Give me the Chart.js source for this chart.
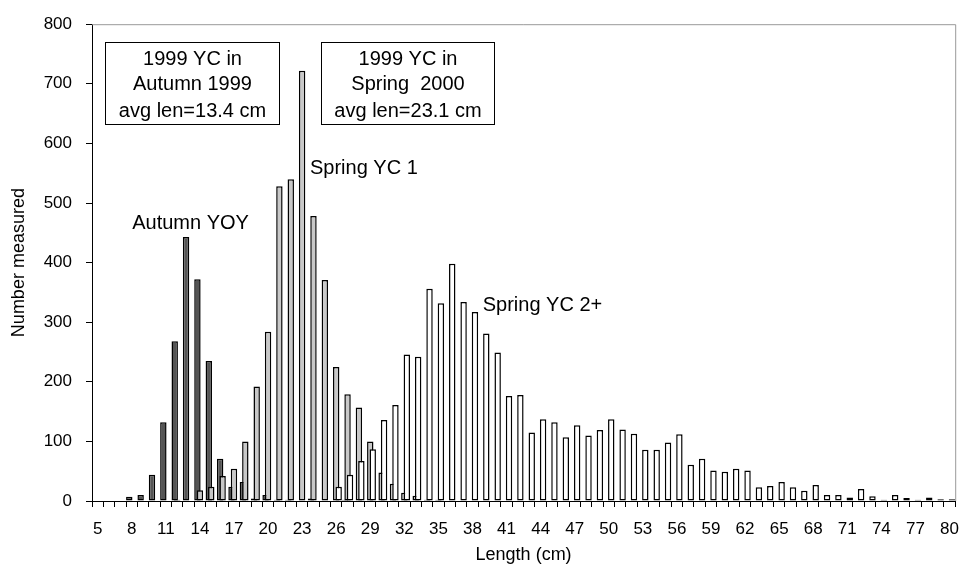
<!DOCTYPE html>
<html>
<head>
<meta charset="utf-8">
<script src="https://cdn.jsdelivr.net/npm/chart.js@4.4.1/dist/chart.umd.min.js"></script>
<style>
  html, body { margin: 0; padding: 0; background: #fff; }
</style>
</head>
<body>
<canvas id="length-freq" width="971" height="570"></canvas>
<script>
var DARK_GREY = "#555555"
var LIGHT_GREY = "#C8C8C8"
var WHITE = "#FFFFFF"

// length classes (cm)
var lengths = [5, 6, 7, 8, 9, 10, 11, 12, 13, 14, 15, 16, 17, 18, 19, 20,
  21, 22, 23, 24, 25, 26, 27, 28, 29, 30, 31, 32, 33, 34, 35, 36, 37, 38, 39, 40,
  41, 42, 43, 44, 45, 46, 47, 48, 49, 50, 51, 52, 53, 54, 55, 56, 57, 58, 59, 60,
  61, 62, 63, 64, 65, 66, 67, 68, 69, 70, 71, 72, 73, 74, 75, 76, 77, 78, 79, 80]

// Autumn 1999, young of year
var autumnYOY = [0, 0, 0, 7, 10, 44, 132, 268, 443, 372, 235, 71, 24, 32, 4, 10,
  2, 2, 0, 4, 0, 0, 2, 0, 0, 0, 0, 0, 0, 0, 0, 0, 0, 0, 0, 0,
  0, 0, 0, 0, 0, 0, 0, 0, 0, 0, 0, 0, 0, 0, 0, 0, 0, 0, 0, 0,
  0, 0, 0, 0, 0, 0, 0, 0, 0, 0, 0, 0, 0, 0, 0, 0, 0, 0, 0, 0]

// Spring 2000, 1999 year class
var springYC1 = [0, 0, 0, 0, 0, 0, 0, 2, 0, 18, 24, 42, 54, 100, 192, 284,
  528, 540, 722, 478, 371, 225, 179, 157, 100, 48, 29, 14, 9, 2, 2, 0, 0, 0, 0, 0,
  0, 0, 0, 0, 0, 0, 0, 0, 0, 0, 0, 0, 0, 1, 0, 1, 0, 0, 1, 1,
  1, 1, 0, 0, 0, 0, 0, 0, 0, 0, 0, 0, 0, 0, 0, 0, 0, 0, 0, 0]

// Spring 2000, older year classes
var springYC2 = [0, 0, 0, 0, 0, 0, 0, 0, 0, 0, 0, 0, 0, 0, 0, 0,
  0, 0, 0, 0, 0, 24, 44, 67, 87, 136, 161, 246, 242, 356, 332, 398, 334, 317, 281, 249,
  176, 178, 115, 137, 132, 107, 127, 110, 119, 137, 120, 113, 86, 86, 98, 112, 61, 71, 51, 49,
  54, 51, 23, 25, 32, 23, 17, 27, 10, 10, 6, 20, 8, 2, 10, 5, 2, 6, 3, 3]

Chart.defaults.font.family = "'Liberation Sans', Arial, sans-serif"
Chart.defaults.color = "#000"

// excel draws later series on top, chart.js does the opposite
var drawOrder = {
  id: 'drawOrder',
  beforeDatasetsDraw: function(chart) {
    for (var i = 0; i < chart.data.datasets.length; i++) {
      chart.getDatasetMeta(i).controller.draw()
    }
    return false
  }
}

var notes = {
  id: 'notes',
  afterDraw: function(chart) {
    var ctx = chart.ctx
    var xs = chart.scales.x
    var ys = chart.scales.y
    var a = chart.chartArea
    ctx.save()

    // plot area frame (top + right)
    ctx.strokeStyle = "#999"
    ctx.lineWidth = 1
    ctx.beginPath()
    ctx.moveTo(a.left, a.top + 0.5)
    ctx.lineTo(a.right + 0.5, a.top + 0.5)
    ctx.lineTo(a.right + 0.5, a.bottom)
    ctx.stroke()

    ctx.font = "20px 'Liberation Sans', Arial, sans-serif"
    ctx.fillStyle = "#000"
    ctx.textBaseline = "alphabetic"

    function box(x0, x1, lines) {
      var l = Math.round(xs.getPixelForValue(x0)) + 0.5
      var r = Math.round(xs.getPixelForValue(x1)) + 0.5
      var t = Math.round(ys.getPixelForValue(770)) + 0.5
      var b = Math.round(ys.getPixelForValue(632)) + 0.5
      ctx.fillStyle = "#fff"
      ctx.fillRect(l, t, r - l, b - t)
      ctx.strokeStyle = "#000"
      ctx.strokeRect(l, t, r - l, b - t)
      ctx.fillStyle = "#000"
      ctx.textAlign = "center"
      var base = [732, 689, 645]
      for (var i = 0; i < lines.length; i++) {
        ctx.fillText(lines[i], (l + r) / 2, ys.getPixelForValue(base[i]))
      }
    }
    box(0.63, 15.93, ["1999 YC in", "Autumn 1999", "avg len=13.4 cm"])
    box(19.67, 34.9, ["1999 YC in", "Spring  2000", "avg len=23.1 cm"])

    ctx.textAlign = "left"
    ctx.fillText("Autumn YOY", xs.getPixelForValue(3.04), ys.getPixelForValue(456))
    ctx.fillText("Spring YC 1", xs.getPixelForValue(18.69), ys.getPixelForValue(548))
    ctx.fillText("Spring YC 2+", xs.getPixelForValue(33.9), ys.getPixelForValue(319))
    ctx.restore()
  }
}

var ctx = document.getElementById("length-freq")
var chartData = {
  labels: lengths,
  datasets: [{
    label: "Autumn YOY",
    data: autumnYOY,
    backgroundColor: DARK_GREY
  }, {
    label: "Spring YC 1",
    data: springYC1,
    backgroundColor: LIGHT_GREY
  }, {
    label: "Spring YC 2+",
    data: springYC2,
    backgroundColor: WHITE
  }]
}

var barChart = new Chart(ctx, {
  type: 'bar',
  data: chartData,
  options: {
    responsive: false,
    animation: false,
    // overlapping bars, no gap between length classes
    categoryPercentage: 0.652,
    barPercentage: 2.6,
    datasets: {
      bar: { borderColor: "#000", borderWidth: 1.5, borderSkipped: false }
    },
    layout: { padding: { left: 4, right: 5, top: 20, bottom: 0 } },
    plugins: {
      legend: { display: false },
      tooltip: { enabled: false }
    },
    scales: {
      x: {
        grid: { drawOnChartArea: false, tickLength: 6, color: "#000", offset: true },
        border: { color: "#000" },
        ticks: {
          autoSkip: false, maxRotation: 0, minRotation: 0, padding: 12,
          font: { size: 17 },
          callback: function(v, i) { return i % 3 === 0 ? this.getLabelForValue(v) : '' }
        },
        title: { display: true, text: "Length (cm)", font: { size: 18 }, padding: { top: 0, bottom: 4 } },
        afterFit: function(s) { s.height = 69 }
      },
      y: {
        min: 0,
        max: 800,
        grid: { drawOnChartArea: false, tickLength: 6, color: "#000" },
        border: { color: "#000" },
        ticks: { stepSize: 100, padding: 14, font: { size: 17 } },
        title: { display: true, text: "Number measured", font: { size: 18 }, padding: { top: 4, bottom: 4 } },
        afterFit: function(s) { s.width = 88 }
      }
    }
  },
  plugins: [drawOrder, notes]
})
</script>
</body>
</html>
